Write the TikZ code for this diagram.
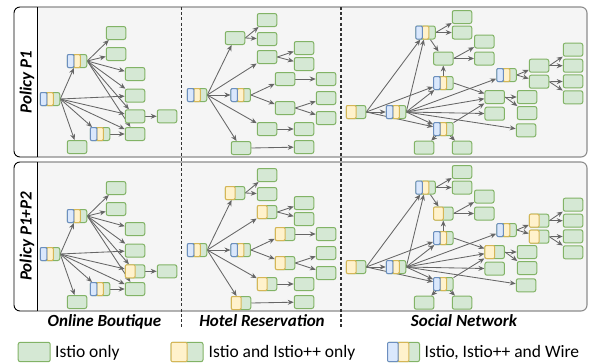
\documentclass[tikz,border=0pt]{standalone}
\usepackage{fontspec}
\setmainfont{Carlito}
\usetikzlibrary{arrows.meta}
\definecolor{gF}{HTML}{D5E8D4}\definecolor{gD}{HTML}{82B366}
\definecolor{yF}{HTML}{FFF2CC}\definecolor{yD}{HTML}{D6B656}
\definecolor{bF}{HTML}{DAE8FC}\definecolor{bD}{HTML}{6C8EBF}
\definecolor{panelF}{HTML}{F5F5F5}\definecolor{panelD}{HTML}{8C8C8C}
\definecolor{edgeC}{HTML}{666666}\definecolor{sepC}{HTML}{333333}
\pgfdeclarelayer{bg}\pgfdeclarelayer{edges}
\pgfsetlayers{bg,edges,main}
\def\hw{9.75}\def\hh{6.5}
\tikzset{
  cell/.style={minimum width={2*\hw}, minimum height={2*\hh}, inner sep=0pt, outer sep=0.5pt},
  gpart/.style={fill=gF, draw=gD, line width=1pt, rounded corners=2pt},
  ypart/.style={fill=yF, draw=yD, line width=1pt, rounded corners=1.2pt},
  bpart/.style={fill=bF, draw=bD, line width=1pt, rounded corners=1.2pt},
  link/.style={draw=edgeC, line width=0.85pt, -{Stealth[length=6pt,width=5pt]}},
  panel/.style={draw=panelD, line width=1.1pt, rounded corners=6pt},
  colframe/.style={draw=black, line width=0.9pt, rounded corners=6pt},
  sep/.style={draw=sepC, line width=1.3pt, dash pattern=on 3pt off 2.2pt},
  apptitle/.style={font=\fontsize{17}{20}\selectfont\bfseries\itshape, inner sep=0pt, anchor=base},
  legtext/.style={font=\fontsize{17.5}{20}\selectfont, inner sep=0pt, anchor=base west},
}
\newcommand\qG[2]{\node[cell] (#1) at (#2) {};
  \draw[gpart] ([shift={(-\hw,-\hh)}]#1.center) rectangle ([shift={(\hw,\hh)}]#1.center);}
\newcommand\qY[2]{\qG{#1}{#2}
  \draw[ypart] ([shift={(-\hw,-\hh)}]#1.center) rectangle ([shift={(0,\hh)}]#1.center);}
\newcommand\qB[2]{\qG{#1}{#2}
  \draw[ypart] ([shift={({-\hw/3},-\hh)}]#1.center) rectangle ([shift={({\hw/3},\hh)}]#1.center);
  \draw[bpart] ([shift={(-\hw,-\hh)}]#1.center) rectangle ([shift={({-\hw/3},\hh)}]#1.center);}
\newcommand\qN[3]{\csname q#1\endcsname{#2}{#3}}
\newcommand\conn[2]{\draw[link] (#1.east) -- (#2);}
\newcommand\connc[2]{\draw[link] (#1) -- (#2);}
\newcommand\panelframe[2]{%
  \fill[panelF, rounded corners=6pt] (14,#1) rectangle (587,#2);
  \begin{scope}\clip (37,0) rectangle (589,364);
    \draw[panel] (14,#1) rectangle (587,#2);\end{scope}
  \begin{scope}\clip (0,0) rectangle (37,364);
    \path[colframe, fill=white] (14,#1) rectangle (60,#2);\end{scope}
  \draw[draw=black, line width=0.9pt] (37,#1) -- (37,#2);}
\newcommand\appOB[1]{%
  \qB{oA}{50,99}\qB{oB}{77,61}\qB{oC}{100,134}
  \qG{o1}{116,33}\qG{o2}{116,54}\qG{o3}{135,74}\qG{o4}{135,95.7}
  \qN{#1}{o5}{135,116.3}\qG{o6}{167,116.3}\qG{o7}{135,134}\qG{o8}{77,147}
  \begin{pgfonlayer}{edges}
  \conn{oA}{oB}\conn{oA}{o4}\conn{oA}{o5}\conn{oA}{o7}\conn{oA}{oC}\conn{oA}{o8}
  \conn{oB}{o1}\conn{oB}{o2}\conn{oB}{o3}\conn{oB}{o4}\conn{oB}{o5}\conn{oB}{o7}
  \conn{oC}{o7}\conn{o5}{o6}
  \end{pgfonlayer}}
\newcommand\appHR[1]{%
  \qB{hR}{197,95}\qB{hH}{240.7,95}
  \qN{#1}{ha}{235,38}\qG{hb}{267,20}\qG{hc}{267,39}\qN{#1}{hd}{267,57}
  \qG{he}{304,48}\qG{hf}{304,64}\qN{#1}{hg}{285,79}\qG{hh}{326,79}
  \qN{#1}{hi}{285,108}\qG{hj}{326,98}\qG{hk}{326,118}
  \qN{#1}{hl}{267,129}\qG{hm}{304,129}\qN{#1}{hn}{241,148}\qG{ho}{304,147}
  \begin{pgfonlayer}{edges}
  \conn{hR}{ha}\conn{hR}{hd}\conn{hR}{hH}\conn{hR}{hl}\conn{hR}{hn}
  \conn{ha}{hb}\conn{ha}{hc}\conn{hd}{he}\conn{hd}{hf}
  \conn{hH}{hg}\conn{hH}{hi}\conn{hg}{hh}\conn{hi}{hj}\conn{hi}{hk}
  \conn{hl}{hm}\conn{hn}{ho}
  \end{pgfonlayer}}
\newcommand\appSN[1]{%
  \qY{s0}{356,112}\qB{s1}{396,112}\qB{s2}{425.5,32.5}\qN{#1}{s3}{443.3,58.5}
  \qB{s4}{443.3,83}\qB{s5}{443.3,129}\qB{s6}{506.5,75}
  \qG{t1}{462,17}\qG{t2}{462,32.5}\qG{t3}{484.3,41.5}\qG{t4}{484.3,58.5}
  \qN{#1}{t5}{494.7,97}\qG{t6}{494.7,113.7}\qG{t7}{527,97}\qG{t8}{527,113}
  \qG{t9}{526,130.3}\qG{t10}{424,147.7}\qG{t11}{462,147.7}
  \qN{#1}{t12}{539,65.7}\qN{#1}{t13}{539,81.7}
  \qG{t14}{573,49.7}\qG{t15}{573,65.7}\qG{t16}{573,81.3}\qG{t17}{573,97.3}
  \begin{pgfonlayer}{edges}
  \conn{s0}{s1}\conn{s0}{s2}\conn{s0}{s4}\conn{s0}{s5}
  \conn{s1}{s2}\conn{s1}{s4}\conn{s1}{s5}\conn{s1}{s6}\conn{s1}{t5}\conn{s1}{t6}\conn{s1}{t9}
  \conn{s2}{t1}\conn{s2}{t2}\connc{s2}{s3}\connc{s4}{s3}\conn{s4}{t5}
  \connc{s5}{t5}\connc{s5}{t10}\connc{s5}{t11}
  \conn{s3}{t3}\conn{s3}{t4}\conn{t5}{t7}\conn{t5}{t8}
  \conn{s6}{t12}\conn{s6}{t13}\conn{t12}{t14}\conn{t12}{t15}\conn{t13}{t16}\conn{t13}{t17}
  \end{pgfonlayer}}
\begin{document}
\begin{tikzpicture}[x=1pt, y=-1pt]
\useasboundingbox (0,0) rectangle (589,364);
\begin{pgfonlayer}{bg}
  \panelframe{7}{157}
  \panelframe{162}{311}
  \coordinate (d1t) at (181.7,7); \coordinate (d1b) at (181.7,329);
  \coordinate (d2t) at (341,7); \coordinate (d2b) at (341,329);
  \draw[sep] (d1t) -- (d1b);
  \draw[sep] (d2t) -- (d2b);
\end{pgfonlayer}
\appOB{G}\appHR{G}\appSN{G}
\begin{scope}[shift={(0,155)}, name prefix=b-]
  \appOB{Y}\appHR{Y}\appSN{Y}
\end{scope}
\node[apptitle, rotate=90] (p1) at (31.5,82) {Policy P1};
\node[apptitle, rotate=90] (p2) at (31.5,236.5) {Policy P1+P2};
\node[apptitle] (tob) at (104.5,326.7) {Online Boutique};
\node[apptitle] (thr) at (262,326.7) {Hotel Reservation};
\node[apptitle] (tsn) at (464,326.7) {Social Network};
\begin{scope}[name prefix=leg-]
  \def\hw{16}\def\hh{9.7}
  \qG{g}{34.2,352}\qY{y}{187,352}\qB{b}{403.5,352}
\end{scope}
\node[legtext] (lt1) at (55,357.3) {Istio only};
\node[legtext] (lt2) at (208.5,357.3) {Istio and Istio++ only};
\node[legtext] (lt3) at (424.5,357.3) {Istio, Istio++ and Wire};
\end{tikzpicture}
\end{document}
